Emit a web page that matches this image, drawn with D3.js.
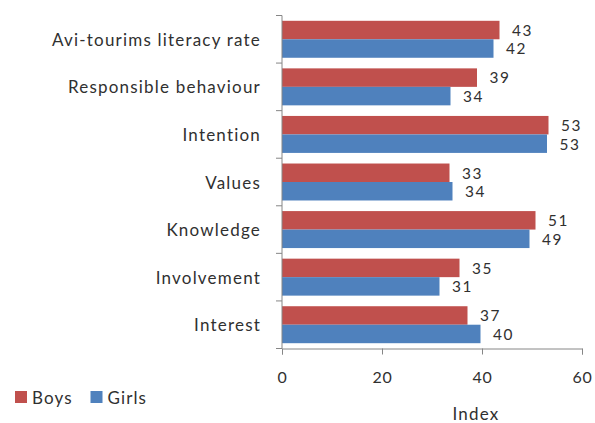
<!DOCTYPE html>
<html>
<head>
<meta charset="utf-8">
<script src="https://cdn.jsdelivr.net/npm/d3@7"></script>
<style>
  html, body { margin: 0; padding: 0; background: #fff; }
  svg { display: block; }
  text { font-family: Lato, "Open Sans", sans-serif; fill: #303030; }
</style>
</head>
<body>
<svg id="chart" width="595" height="423"></svg>
<script>
const categories = ["Avi-tourims literacy rate", "Responsible behaviour", "Intention", "Values", "Knowledge", "Involvement", "Interest"];
const seriesNames = ["Boys", "Girls"];
const boys = [43.5, 39.0, 53.3, 33.5, 50.7, 35.5, 37.1];
const girls = [42.3, 33.7, 53.0, 34.1, 49.5, 31.5, 39.7];
const boysLabels = ["43", "39", "53", "33", "51", "35", "37"];
const girlsLabels = ["42", "34", "53", "34", "49", "31", "40"];
const seriesColors = ["#C0504D", "#4F81BD"];
const xTicks = [0, 20, 40, 60];
const xTitle = "Index";

const svg = d3.select("#chart");
const x = d3.scaleLinear().domain([0, 60]).range([282, 582]);
const y = d3.scaleBand().domain(categories).range([15.5, 348.5]).paddingInner(0).paddingOuter(0);
const inner = d3.scaleBand().domain(seriesNames).range([5.3, y.bandwidth() - 5.3]);

const rows = categories.map((c, i) => ({
  cat: c,
  items: [
    {s: seriesNames[0], v: boys[i], lab: boysLabels[i], j: 0},
    {s: seriesNames[1], v: girls[i], lab: girlsLabels[i], j: 1}
  ]
}));

const g = svg.append("g");
const groups = g.selectAll("g.cat").data(rows).join("g")
  .attr("transform", d => `translate(0,${y(d.cat)})`);

groups.selectAll("rect").data(d => d.items)
  .join("rect")
  .attr("x", x(0))
  .attr("y", d => inner(d.s))
  .attr("width", d => x(d.v) - x(0))
  .attr("height", inner.bandwidth())
  .attr("fill", d => seriesColors[d.j]);

groups.selectAll("text.val").data(d => d.items)
  .join("text")
  .attr("class", "val")
  .attr("x", d => x(d.v) + 12.5)
  .attr("y", d => inner(d.s) + inner.bandwidth() / 2 + 0.3)
  .attr("dy", "0.36em")
  .attr("font-size", 15.4)
  .attr("letter-spacing", 1.6)
  .text(d => d.lab);

// y axis (category)
const yAxis = g.append("g").attr("transform", `translate(${x(0)},0)`);
yAxis.append("line").attr("x1", 0).attr("x2", 0).attr("y1", y.range()[0]).attr("y2", y.range()[1]).attr("stroke", "#868686");
const bounds = categories.map(c => y(c)).concat([y.range()[1]]);
yAxis.selectAll("line.tk").data(bounds).join("line").attr("class", "tk")
  .attr("x1", -6).attr("x2", 0).attr("y1", d => d).attr("y2", d => d).attr("stroke", "#868686");
yAxis.selectAll("text.cat").data(categories).join("text").attr("class", "cat")
  .attr("x", -21).attr("y", d => y(d) + y.bandwidth() / 2 + 0.5)
  .attr("dy", "0.36em").attr("text-anchor", "end").attr("font-size", 17)
  .attr("letter-spacing", 1.2)
  .text(d => d);

// x axis
const xAxis = g.append("g").attr("transform", `translate(0,${y.range()[1]})`)
  .call(d3.axisBottom(x).tickValues(xTicks).tickSize(6).tickPadding(17));
xAxis.select(".domain").attr("stroke", "#868686");
xAxis.selectAll(".tick line").attr("stroke", "#868686");
xAxis.selectAll(".tick text").attr("font-size", 16).attr("fill", "#303030")
  .attr("letter-spacing", 0.8)
  .style("font-family", 'Lato, "Open Sans", sans-serif');

svg.append("text").attr("x", 476).attr("y", 419.5)
  .attr("text-anchor", "middle").attr("font-size", 17).attr("letter-spacing", 1.2).text(xTitle);

// legend
const legend = svg.append("g");
const legendX = [15, 90.5];
seriesNames.forEach((s, j) => {
  const lg = legend.append("g").attr("transform", `translate(${legendX[j]},391)`);
  lg.append("rect").attr("width", 12).attr("height", 12).attr("fill", seriesColors[j]);
  lg.append("text").attr("x", 17).attr("y", 6.5).attr("dy", "0.36em").attr("font-size", 17)
    .attr("letter-spacing", 1.1).text(s);
});
</script>
</body>
</html>
